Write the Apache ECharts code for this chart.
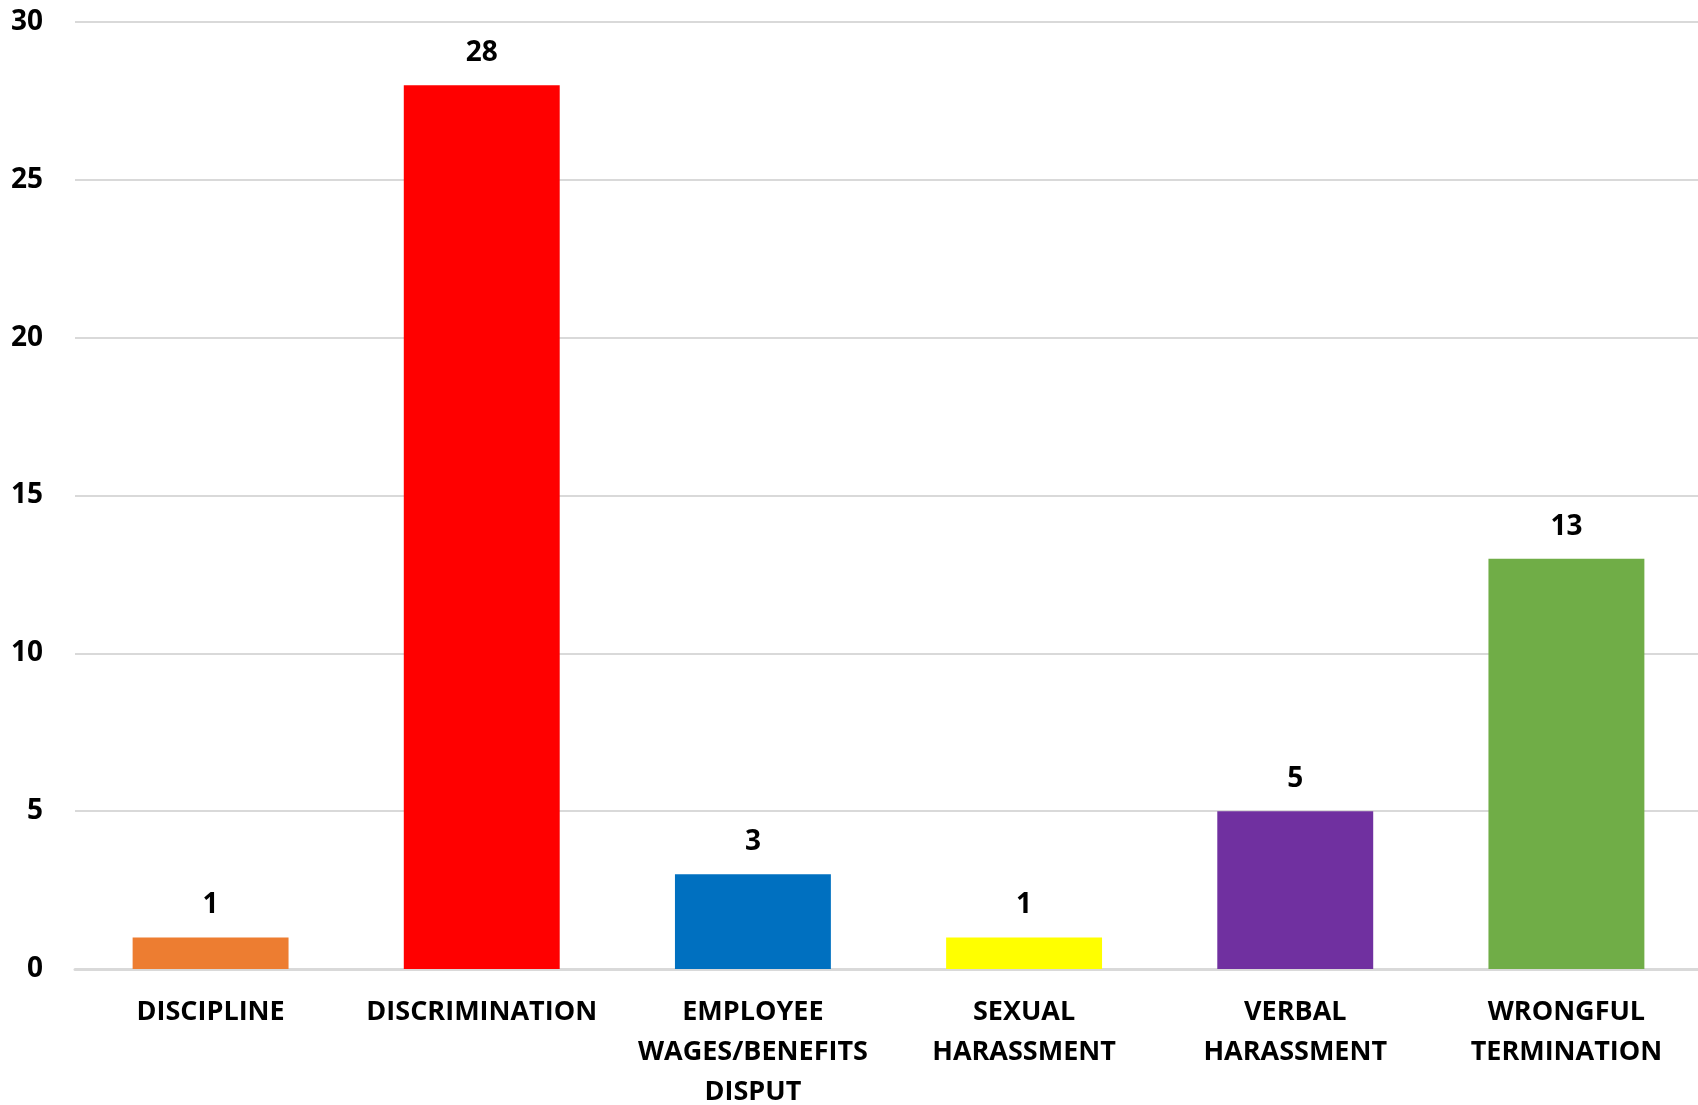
<!DOCTYPE html>
<html>
<head>
<meta charset="utf-8">
<script src="https://cdn.jsdelivr.net/npm/echarts@6/dist/echarts.min.js"></script>
<style>
  html, body { margin: 0; padding: 0; background: #fff; overflow: hidden; }
  #chart { width: 1698px; height: 1105px; }
</style>
</head>
<body>
<div id="chart"></div>
<script>
const categories = [
  'DISCIPLINE',
  'DISCRIMINATION',
  'EMPLOYEE WAGES/BENEFITS DISPUT',
  'SEXUAL HARASSMENT',
  'VERBAL HARASSMENT',
  'WRONGFUL TERMINATION'
]
const counts = [1, 28, 3, 1, 5, 13]
const barColors = ['#ED7D31', '#FF0000', '#0070C0', '#FFFF00', '#7030A0', '#70AD47']

const yMin = 0
const yMax = 30
const yStep = 5

const chart = echarts.init(document.getElementById('chart'))

const fontFamily = '"Open Sans", sans-serif'

const option = {
  animation: false,
  grid: {
    left: 75,
    right: -4,
    top: 22,
    bottom: 136,
    containLabel: false,
    outerBoundsMode: 'none'
  },
  xAxis: {
    type: 'category',
    data: categories,
    axisTick: { show: false },
    axisLine: {
      lineStyle: { color: '#D9D9D9', width: 3 }
    },
    axisLabel: {
      interval: 0,
      margin: 23,
      color: '#000',
      fontFamily: fontFamily,
      fontWeight: 'bold',
      fontSize: 27,
      lineHeight: 40,
      formatter: (v) => v.split(' ').join('\n')
    }
  },
  yAxis: {
    type: 'value',
    min: yMin,
    max: yMax,
    interval: yStep,
    axisLine: { show: false },
    axisTick: { show: false },
    splitLine: {
      lineStyle: { color: '#D9D9D9', width: 2 }
    },
    axisLabel: {
      margin: 32,
      color: '#000',
      fontFamily: fontFamily,
      fontWeight: 'bold',
      fontSize: 28
    }
  },
  series: [
    {
      type: 'bar',
      data: counts.map((v, i) => ({
        value: v,
        itemStyle: { color: barColors[i] }
      })),
      barWidth: '57.5%',
      label: {
        show: true,
        position: 'top',
        distance: 18,
        color: '#000',
        fontFamily: fontFamily,
        fontWeight: 'bold',
        fontSize: 28
      }
    }
  ]
}

chart.setOption(option)
</script>
</body>
</html>
